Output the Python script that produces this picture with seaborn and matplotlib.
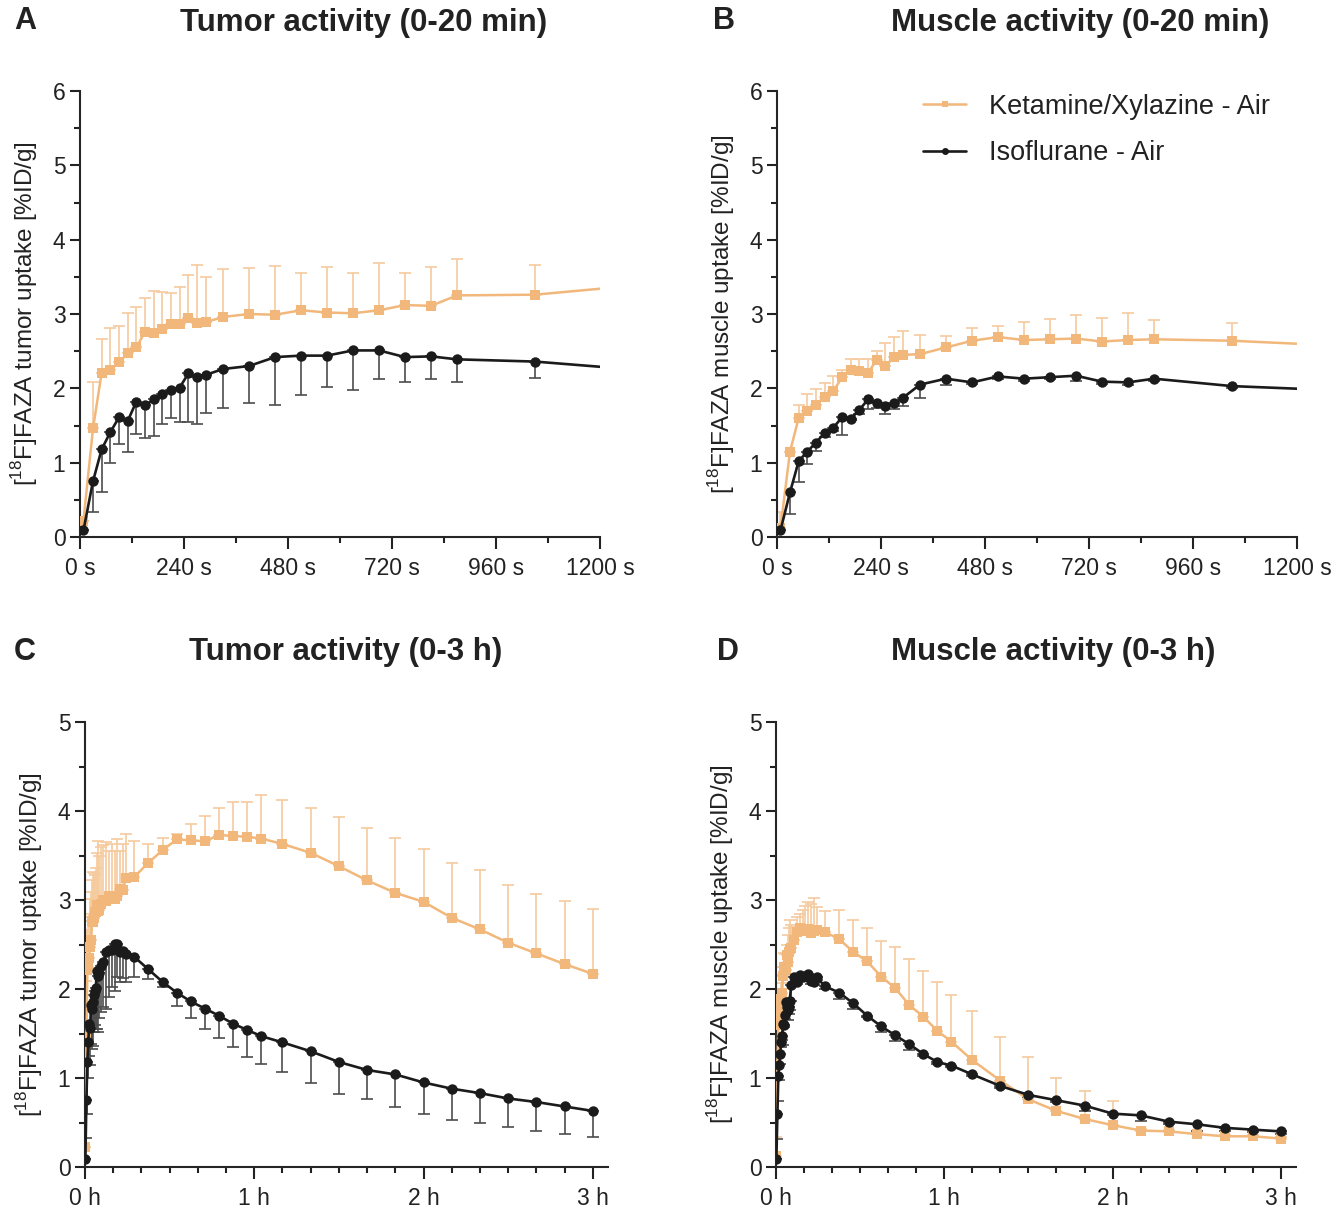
import numpy as np
import seaborn as sns
import matplotlib.pyplot as plt
from matplotlib.ticker import MultipleLocator, FixedLocator
from matplotlib.lines import Line2D

# frame mid-times in seconds (shared by all four panels)
time_s = [8, 30, 50, 70, 90, 110, 130, 150, 170, 190, 210, 230, 250, 270, 290,
          330, 390, 450, 510, 570, 630, 690, 750, 810, 870, 1050,
          1350, 1650, 1950, 2250, 2550, 2850, 3150, 3450, 3750,
          4200, 4800, 5400, 6000, 6600, 7200, 7800, 8400, 9000, 9600, 10200, 10800]

# tumor, ketamine/xylazine (mean, SD)
tumor_kx = [0.22, 1.46, 2.21, 2.25, 2.35, 2.47, 2.55, 2.76, 2.75, 2.80, 2.87, 2.87, 2.94, 2.88, 2.89,
            2.96, 3.00, 2.99, 3.05, 3.02, 3.01, 3.05, 3.12, 3.11, 3.25, 3.26,
            3.42, 3.56, 3.68, 3.67, 3.66, 3.73, 3.72, 3.71, 3.69,
            3.63, 3.53, 3.38, 3.22, 3.08, 2.98, 2.80, 2.67, 2.52, 2.40, 2.28, 2.17]
tumor_kx_sd = [0.0, 0.63, 0.45, 0.56, 0.49, 0.54, 0.54, 0.46, 0.56, 0.50, 0.41, 0.49, 0.59, 0.78, 0.61,
               0.64, 0.62, 0.66, 0.50, 0.61, 0.54, 0.64, 0.43, 0.52, 0.49, 0.40,
               0.21, 0.14, 0.06, 0.18, 0.28, 0.30, 0.38, 0.39, 0.49,
               0.49, 0.50, 0.55, 0.59, 0.62, 0.59, 0.62, 0.67, 0.65, 0.67, 0.71, 0.73]

# tumor, isoflurane
tumor_iso = [0.09, 0.75, 1.18, 1.41, 1.61, 1.56, 1.82, 1.77, 1.85, 1.93, 1.98, 2.01, 2.20, 2.15, 2.18,
             2.26, 2.30, 2.42, 2.44, 2.44, 2.51, 2.51, 2.42, 2.43, 2.39, 2.36,
             2.22, 2.08, 1.96, 1.86, 1.78, 1.70, 1.61, 1.54, 1.47,
             1.40, 1.30, 1.18, 1.09, 1.04, 0.95, 0.88, 0.83, 0.77, 0.73, 0.68, 0.63]
tumor_iso_sd = [0.0, 0.42, 0.58, 0.41, 0.36, 0.41, 0.44, 0.44, 0.49, 0.41, 0.38, 0.46, 0.65, 0.63, 0.51,
                0.52, 0.50, 0.65, 0.53, 0.42, 0.53, 0.38, 0.34, 0.31, 0.31, 0.22,
                0.11, 0.06, 0.15, 0.19, 0.23, 0.25, 0.26, 0.30, 0.31,
                0.33, 0.36, 0.36, 0.33, 0.37, 0.35, 0.35, 0.33, 0.32, 0.32, 0.31, 0.29]

# muscle, ketamine/xylazine
muscle_kx = [0.12, 1.15, 1.60, 1.70, 1.78, 1.89, 1.96, 2.15, 2.25, 2.23, 2.21, 2.38, 2.30, 2.42, 2.45,
             2.46, 2.55, 2.64, 2.69, 2.65, 2.66, 2.67, 2.63, 2.65, 2.66, 2.64,
             2.56, 2.42, 2.31, 2.14, 2.01, 1.82, 1.69, 1.53, 1.41,
             1.20, 0.97, 0.76, 0.63, 0.54, 0.47, 0.41, 0.40, 0.37, 0.345, 0.345, 0.32]
muscle_kx_sd = [0.22, 0.0, 0.17, 0.22, 0.21, 0.18, 0.20, 0.10, 0.15, 0.16, 0.19, 0.12, 0.31, 0.27, 0.32,
                0.26, 0.15, 0.17, 0.15, 0.24, 0.27, 0.31, 0.32, 0.37, 0.26, 0.24,
                0.33, 0.35, 0.38, 0.40, 0.46, 0.52, 0.51, 0.55, 0.52,
                0.55, 0.49, 0.48, 0.37, 0.31, 0.27, 0.02, 0.02, 0.02, 0.02, 0.02, 0.02]

# muscle, isoflurane
muscle_iso = [0.09, 0.60, 1.02, 1.15, 1.27, 1.40, 1.47, 1.61, 1.59, 1.71, 1.85, 1.80, 1.76, 1.80, 1.87,
              2.05, 2.13, 2.08, 2.16, 2.13, 2.15, 2.17, 2.09, 2.08, 2.13, 2.03,
              1.96, 1.84, 1.70, 1.58, 1.48, 1.38, 1.27, 1.18, 1.14,
              1.04, 0.91, 0.81, 0.75, 0.69, 0.60, 0.58, 0.51, 0.48, 0.44, 0.42, 0.40]
muscle_iso_sd = [0.0, 0.29, 0.28, 0.17, 0.11, 0.05, 0.04, 0.24, 0.02, 0.05, 0.13, 0.06, 0.11, 0.08, 0.11,
                 0.18, 0.08, 0.02, 0.03, 0.03, 0.03, 0.07, 0.03, 0.03, 0.03, 0.03,
                 0.07, 0.06, 0.02, 0.06, 0.06, 0.06, 0.02, 0.02, 0.02,
                 0.02, 0.02, 0.02, 0.02, 0.06, 0.02, 0.06, 0.03, 0.08, 0.03, 0.03, 0.03]

labels = ['Ketamine/Xylazine - Air', 'Isoflurane - Air']
titles = ['Tumor activity (0-20 min)', 'Muscle activity (0-20 min)',
          'Tumor activity (0-3 h)', 'Muscle activity (0-3 h)']
ylabels = ['[$^{18}$F]FAZA tumor uptake [%ID/g]', '[$^{18}$F]FAZA muscle uptake [%ID/g]']

ORANGE = '#F2B77B'
ORANGE_ERR = '#F5CB9E'
BLACK = '#1b1b1b'
BLACK_ERR = '#4d4d4d'

sns.set_style('ticks')
plt.rcParams['font.family'] = ['Liberation Sans', 'DejaVu Sans']
plt.rcParams['mathtext.fontset'] = 'custom'
plt.rcParams['mathtext.rm'] = 'Liberation Sans'
plt.rcParams['axes.linewidth'] = 1.5
plt.rcParams['text.color'] = '#222222'
plt.rcParams['axes.labelcolor'] = '#222222'
plt.rcParams['xtick.color'] = '#222222'
plt.rcParams['ytick.color'] = '#222222'

W, H = 1341, 1208
fig = plt.figure(figsize=(W / 100, H / 100), dpi=100)


def px_axes(left, right, top, bottom):
    return fig.add_axes([left / W, 1 - bottom / H, (right - left) / W, (bottom - top) / H])


def draw(ax, x, kx, kx_sd, iso, iso_sd):
    x = np.asarray(x, dtype=float)
    z = np.zeros(len(x))
    ax.errorbar(x, kx, yerr=[z, kx_sd], fmt='none', ecolor=ORANGE_ERR,
                elinewidth=1.2, capsize=4, capthick=1.2, zorder=1)
    ax.errorbar(x, iso, yerr=[iso_sd, z], fmt='none', ecolor=BLACK_ERR,
                elinewidth=1.2, capsize=4, capthick=1.2, zorder=2)
    sns.lineplot(x=x, y=kx, ax=ax, color=ORANGE, marker='s', markersize=7,
                 markeredgewidth=0, linewidth=1.8, estimator=None, sort=False, zorder=3)
    sns.lineplot(x=x, y=iso, ax=ax, color=BLACK, marker='o', markersize=7.5,
                 markeredgewidth=0, linewidth=1.9, estimator=None, sort=False, zorder=4)
    sns.despine(ax=ax)
    ax.tick_params(which='major', length=7, width=1.5, labelsize=16.5)
    ax.tick_params(axis='x', which='major', length=8.5, pad=6)
    ax.tick_params(which='minor', length=4.5, width=1.5)
    ax.yaxis.set_minor_locator(MultipleLocator(0.5))


axA = px_axes(80, 600, 91, 537)
axB = px_axes(777, 1297, 91, 537)
axC = px_axes(85, 608, 722, 1167)
axD = px_axes(776, 1296, 722, 1167)

t_h = [t / 3600 for t in time_s]
draw(axA, time_s, tumor_kx, tumor_kx_sd, tumor_iso, tumor_iso_sd)
draw(axB, time_s, muscle_kx, muscle_kx_sd, muscle_iso, muscle_iso_sd)
draw(axC, t_h, tumor_kx, tumor_kx_sd, tumor_iso, tumor_iso_sd)
draw(axD, t_h, muscle_kx, muscle_kx_sd, muscle_iso, muscle_iso_sd)

for ax in (axA, axB):
    ax.set_xlim(0, 1200)
    ax.set_ylim(0, 6)
    ax.set_yticks(range(0, 7))
    ax.set_xticks(range(0, 1201, 240))
    ax.set_xticklabels([f'{v} s' for v in range(0, 1201, 240)])
    ax.xaxis.set_minor_locator(MultipleLocator(120))

for ax in (axC, axD):
    ax.set_xlim(0, 3.09)
    ax.set_ylim(0, 5)
    ax.set_yticks(range(0, 6))
    ax.set_xticks([0, 1, 2, 3])
    ax.set_xticklabels([f'{v} h' for v in range(4)])
    ax.xaxis.set_minor_locator(FixedLocator(np.arange(0, 18.5) / 6))

for ax, lab in zip((axA, axB, axC, axD), ylabels * 2):
    ax.set_xlabel('')
    ax.set_ylabel(lab, fontsize=17.5, labelpad=9)

# titles and panel letters
for (tx, ty), txt in zip([(364, 23), (1080, 23), (346, 652), (1053, 652)], titles):
    fig.text(tx / W, 1 - ty / H, txt, fontsize=22.5, fontweight='bold', ha='center', va='center')
for (tx, ty), txt in zip([(25, 21), (724, 21), (25, 652), (728, 652)], 'ABCD'):
    fig.text(tx / W, 1 - ty / H, txt, fontsize=22, fontweight='bold', ha='center', va='center')

handles = [Line2D([], [], color=ORANGE, marker='s', markersize=5, markeredgewidth=0, linewidth=1.8),
           Line2D([], [], color=BLACK, marker='o', markersize=5, markeredgewidth=0, linewidth=1.9)]
axB.legend(handles, labels, loc='upper left', bbox_to_anchor=(0.234, 1.048), frameon=False,
           fontsize=19.5, handlelength=1.6, handletextpad=0.85, labelspacing=0.75)

fig.savefig('out.png', dpi=100)
